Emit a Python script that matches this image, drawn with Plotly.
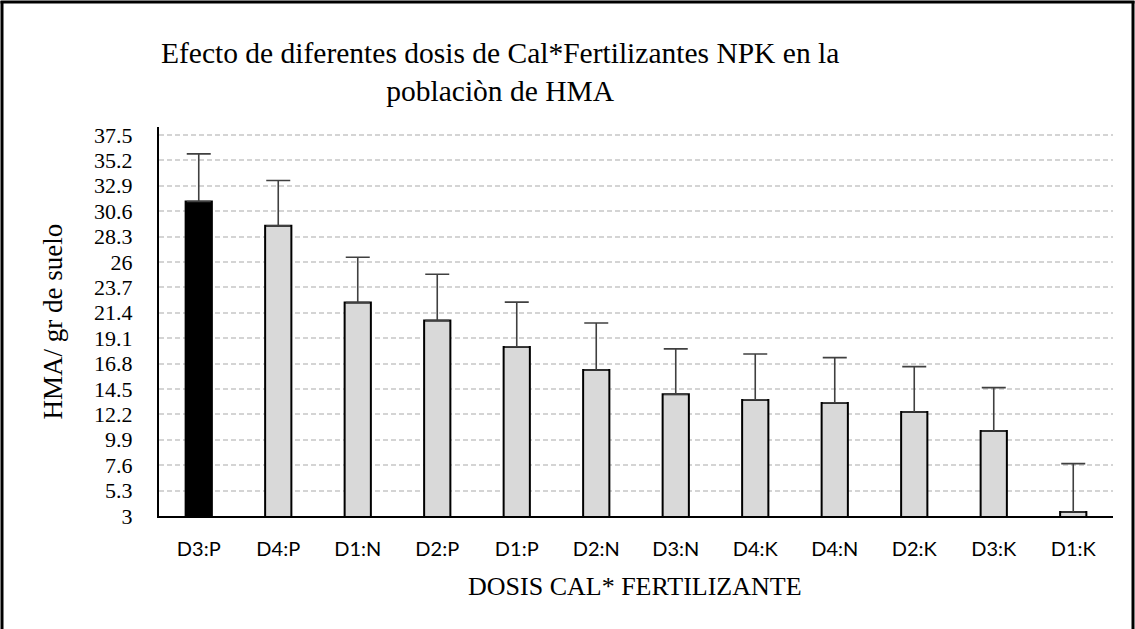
import plotly.graph_objects as go

# ---- data ----
categories = ["D3:P", "D4:P", "D1:N", "D2:P", "D1:P", "D2:N",
              "D3:N", "D4:K", "D4:N", "D2:K", "D3:K", "D1:K"]
means = [31.47, 29.27, 22.32, 20.69, 18.31, 16.22,
         14.02, 13.51, 13.24, 12.42, 10.70, 3.36]
errors_up = [4.32, 4.10, 4.11, 4.20, 4.05, 4.26,
             4.11, 4.16, 4.10, 4.10, 3.92, 4.38]
y_ticks = [3, 5.3, 7.6, 9.9, 12.2, 14.5, 16.8, 19.1, 21.4, 23.7,
           26, 28.3, 30.6, 32.9, 35.2, 37.5]
y_ticktext = ["3", "5.3", "7.6", "9.9", "12.2", "14.5", "16.8", "19.1", "21.4",
              "23.7", "26", "28.3", "30.6", "32.9", "35.2", "37.5"]
bar_colors = ["#000000"] + ["#d9d9d9"] * 11

title_text = "Efecto de diferentes dosis de Cal*Fertilizantes NPK en la<br>poblaciòn de HMA"
x_title = "DOSIS CAL* FERTILIZANTE"
y_title = "HMA/ gr de suelo"

# ---- layout geometry (pixels) ----
W, H = 1135, 629
L, R, T, B = 159, 22, 127, 113
pw, ph = W - L - R, H - T - B

def px_x(x):
    return (x - L) / pw

def px_y(y):
    return (H - B - y) / ph

serif = "Liberation Serif, Times New Roman, serif"

fig = go.Figure()
fig.add_trace(go.Bar(
    x=categories,
    y=means,
    width=0.33,
    marker=dict(color=bar_colors, line=dict(color="#000000", width=2)),
    error_y=dict(type="data", symmetric=False, array=errors_up,
                 arrayminus=[0] * len(errors_up),
                 color="#404040", thickness=1.6, width=12),
    showlegend=False,
))

fig.update_layout(
    width=W, height=H,
    margin=dict(l=L, r=R, t=T, b=B, pad=0),
    paper_bgcolor="white", plot_bgcolor="white",
    bargap=0.67,
    xaxis=dict(
        type="category",
        showline=True, linecolor="#000000", linewidth=2,
        showgrid=False, ticks="",
        tickfont=dict(family="Lato, Liberation Sans, sans-serif", size=20, color="#000000"),
        ticklabelstandoff=14,
        fixedrange=True,
    ),
    yaxis=dict(
        range=[3, 38.22],
        tickvals=y_ticks, ticktext=y_ticktext,
        showline=True, linecolor="#000000", linewidth=2,
        showgrid=True, gridcolor="#d4d4d4", gridwidth=1.5, griddash="5px,3px",
        zeroline=False, ticks="",
        tickfont=dict(family=serif, size=22, color="#000000"),
        ticklabelstandoff=20,
        fixedrange=True,
    ),
    annotations=[
        dict(text=title_text, x=px_x(500), y=px_y(72), xref="paper", yref="paper",
             xanchor="center", yanchor="middle", showarrow=False,
             font=dict(family=serif, size=29.5, color="#000000")),
        dict(text=y_title, x=px_x(52), y=0.5, xref="paper", yref="paper",
             xanchor="center", yanchor="middle", textangle=-90, showarrow=False,
             font=dict(family=serif, size=27, color="#000000")),
        dict(text=x_title, x=px_x(635), y=px_y(586), xref="paper", yref="paper",
             xanchor="center", yanchor="middle", showarrow=False,
             font=dict(family=serif, size=26, color="#000000")),
    ],
    shapes=[
        dict(type="line", xref="paper", yref="paper", x0=px_x(2), x1=px_x(2),
             y0=px_y(1), y1=px_y(H), line=dict(color="#000000", width=3)),
        dict(type="line", xref="paper", yref="paper", x0=px_x(0.5), x1=px_x(1134.5),
             y0=px_y(2), y1=px_y(2), line=dict(color="#000000", width=3)),
        dict(type="line", xref="paper", yref="paper", x0=px_x(1133), x1=px_x(1133),
             y0=px_y(1), y1=px_y(H), line=dict(color="#000000", width=3)),
    ],
)

fig.write_html("out.html",
               config={"displayModeBar": False},
               post_script="document.body.style.margin='0';document.body.style.overflow='hidden';")
